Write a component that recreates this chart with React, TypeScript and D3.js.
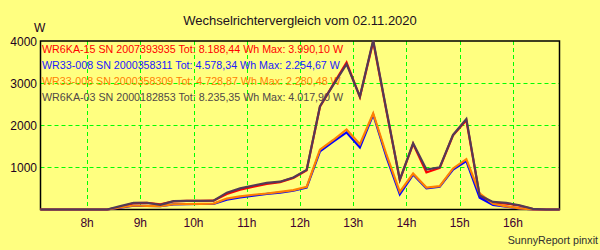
import React from "react";
import * as d3 from "d3";

const times = [
  7.125, 7.375, 7.625, 7.875, 8.125, 8.375, 8.625, 8.875, 9.125, 9.375,
  9.625, 9.875, 10.125, 10.375, 10.625, 10.875, 11.125, 11.375, 11.625, 11.875,
  12.125, 12.375, 12.625, 12.875, 13.125, 13.375, 13.625, 13.875, 14.125, 14.375,
  14.625, 14.875, 15.125, 15.375, 15.625, 15.875, 16.125, 16.375, 16.625, 16.875,
];

const wr6ka15 = [
  0, 0, 0, 0, 0, 0, 50, 150, 160, 120,
  195, 205, 205, 210, 370, 470, 540, 610, 650, 750,
  930, 2440, 2970, 3490, 2670, 3990, 2330, 700, 1560, 880,
  990, 1760, 2120, 320, 160, 140, 90, 10, 0, 0,
];
const wr33_311 = [
  0, 0, 0, 0, 0, 0, 45, 90, 85, 80,
  120, 125, 130, 135, 235, 285, 330, 370, 400, 445,
  520, 1380, 1610, 1830, 1475, 2255, 1240, 360, 830, 505,
  540, 950, 1150, 280, 110, 70, 25, 0, 0, 0,
];
const wr33_309 = [
  0, 0, 0, 0, 0, 0, 50, 95, 85, 80,
  125, 130, 135, 140, 260, 310, 350, 380, 420, 460,
  540, 1420, 1650, 1900, 1550, 2280, 1300, 420, 855, 520,
  555, 975, 1195, 380, 140, 75, 25, 0, 0, 0,
];
const wr6ka03 = [
  0, 0, 0, 0, 0, 0, 80, 160, 160, 110,
  200, 205, 205, 210, 400, 500, 570, 630, 660, 760,
  940, 2450, 2960, 3450, 2680, 4018, 2350, 710, 1570, 950,
  1000, 1770, 2150, 330, 180, 157, 100, 15, 0, 0,
];

const seriesLabels = [
  "WR6KA-15 SN 2007393935 Tot: 8.188,44 Wh Max: 3.990,10 W",
  "WR33-008 SN 2000358311 Tot: 4.578,34 Wh Max: 2.254,67 W",
  "WR33-008 SN 2000358309 Tot: 4.728,87 Wh Max: 2.280,48 W",
  "WR6KA-03 SN 2000182853 Tot: 8.235,35 Wh Max: 4.017,90 W",
];
const seriesColors = ["#ff0000", "#0000ff", "#ff8000", "#533a55"];
const legendColors = ["#ff0000", "#2020ff", "#ff8000", "#504848"];

const xTicks = [8, 9, 10, 11, 12, 13, 14, 15, 16];
const xTickLabels = ["8h", "9h", "10h", "11h", "12h", "13h", "14h", "15h", "16h"];
const yTicks = [1000, 2000, 3000, 4000];
const yTickLabels = ["1000", "2000", "3000", "4000"];

const title = "Wechselrichtervergleich vom 02.11.2020";
const footer = "SunnyReport pinxit";

export default function App() {
  const W = 600;
  const H = 250;
  const x = d3.scaleLinear().domain([7.125, 16.875]).range([40.5, 559.5]);
  const y = d3.scaleLinear().domain([0, 4000]).range([209.5, 41]);
  const series = [wr6ka15, wr33_311, wr33_309, wr6ka03];
  const line = d3
    .line<number>()
    .x((_, i) => x(times[i]))
    .y((d) => y(d));
  const font = "'Liberation Sans', Arial, sans-serif";

  return (
    <svg
      width={W}
      height={H}
      style={{ position: "absolute", left: 0, top: 0, background: "#ffff80" }}
      fontFamily={font}
    >
      <rect x={0} y={0} width={W} height={H} fill="#ffff80" />
      {yTicks.slice(0, 3).map((t) => (
        <line
          key={"gy" + t}
          x1={x(7.125)}
          x2={x(16.875)}
          y1={Math.round(y(t)) + 0.5}
          y2={Math.round(y(t)) + 0.5}
          stroke="#00ff00"
          strokeWidth={1}
          strokeDasharray="4,3"
        />
      ))}
      {xTicks.map((t) => (
        <line
          key={"gx" + t}
          x1={Math.round(x(t)) + 0.5}
          x2={Math.round(x(t)) + 0.5}
          y1={y(4000)}
          y2={y(0)}
          stroke="#00ff00"
          strokeWidth={1}
          strokeDasharray="4,3"
        />
      ))}
      <rect
        x={x(7.125)}
        y={y(4000)}
        width={x(16.875) - x(7.125)}
        height={y(0) - y(4000)}
        fill="none"
        stroke="#000"
        strokeWidth={1.5}
      />
      {seriesLabels.map((s, i) => (
        <text
          key={"lg" + i}
          x={42}
          y={53 + i * 16}
          fontSize={10.7}
          fill={legendColors[i]}
        >
          {s}
        </text>
      ))}
      {series.map((s, i) => (
        <path
          key={"s" + i}
          d={line(s) || ""}
          fill="none"
          stroke={seriesColors[i]}
          strokeWidth={2.2}
          strokeLinejoin="miter"
        />
      ))}
      {yTicks.map((t, i) => (
        <text
          key={"yl" + t}
          x={37}
          y={y(t) + 4.5}
          textAnchor="end"
          fontSize={12}
          fill="#200020"
        >
          {yTickLabels[i]}
        </text>
      ))}
      <text x={34} y={31.5} fontSize={12} fill="#200020">
        W
      </text>
      {xTicks.map((t, i) => (
        <text
          key={"xl" + t}
          x={x(t)}
          y={226.5}
          textAnchor="middle"
          fontSize={12}
          fill="#400030"
        >
          {xTickLabels[i]}
        </text>
      ))}
      <text x={300} y={25} textAnchor="middle" fontSize={13} fill="#201020">
        {title}
      </text>
      <text x={598} y={244} textAnchor="end" fontSize={10.7} fill="#303030">
        {footer}
      </text>
    </svg>
  );
}
